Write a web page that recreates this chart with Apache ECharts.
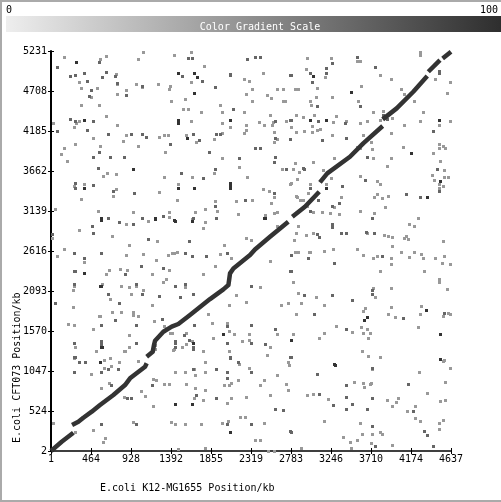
<!DOCTYPE html>
<html>
<head>
<meta charset="utf-8">
<style>html,body{margin:0;padding:0;background:#fff}#c{width:501px;height:502px}</style>
<script src="https://cdn.jsdelivr.net/npm/echarts@6/dist/echarts.min.js"></script>
</head>
<body>
<div id="c"></div>
<script>
var xTicks = [1,464,928,1392,1855,2319,2783,3246,3710,4174,4637];
var yTicks = [2,524,1047,1570,2093,2616,3139,3662,4185,4708,5231];
var xTitle = 'E.coli K12-MG1655 Position/kb';
var yTitle = 'E.coli CFT073 Position/kb';
var scaleTitle = 'Color Gradient Scale';

var alignedSegments = [
 [[1,2],[125,123],[260,241]],
 [[245,342],[318,385],[376,437],[473,516],[569,603],[724,734],[859,864],[917,952],[1091,1104],[1110,1148]],
 [[1110,1235],[1180,1300],[1195,1387],[1207,1444],[1303,1561],[1400,1627],[1477,1662],[1612,1779],[1844,1988],[1999,2115],[2057,2171],[2068,2259],[2076,2324],[2115,2389],[2308,2564],[2365,2637],[2539,2803],[2751,2999]],
 [[2798,3065],[2944,3195],[3110,3391]],
 [[3118,3513],[3203,3631],[3466,3849],[3620,4023],[3845,4250]],
 [[3845,4337],[4007,4481],[4200,4698],[4362,4903]],
 [[4374,4960],[4509,5112]],
 [[4540,5134],[4637,5221]]
];

var lightHits = [
[1072,5212],[1628,5212],[1431,5173],[156,5147],[643,5160],[573,5125],[1014,5125],[1779,5029],[759,4934],[2242,4860],[2296,4833],[330,4820],[770,4794],[991,4794],[1060,4755],[1246,4794],[1385,4768],[1373,4729],[1628,4820],[353,4742],[539,4742],[875,4716],[770,4663],[2265,4663],[469,4624],[1558,4598],[1396,4572],[353,4520],[562,4520],[1964,4520],[1535,4467],[1593,4467],[1744,4428],[1987,4428],[2242,4428],[643,4376],[330,4311],[1628,4311],[1987,4284],[29,4284],[291,4284],[770,4258],[2265,4258],[272,4232],[2080,4232],[2265,4193],[875,4128],[1257,4101],[1315,4128],[1361,4128],[1570,4128],[1987,4154],[2242,4154],[492,4088],[1894,4075],[840,4049],[1686,4036],[284,4010],[1014,3984],[573,3984],[156,3958],[1327,3905],[121,3879],[1987,3827],[191,3788],[2184,3709],[654,3631],[759,3618],[1894,3631],[608,3592],[1315,3579],[1640,3579],[2277,3579],[272,3470],[388,3487],[1477,3487],[759,3422],[1257,3383],[724,3330],[353,3291],[1466,3278],[1906,3265],[2149,3265],[1790,3160],[52,3160],[550,3134],[956,3121],[1373,3121],[1674,3121],[1929,3134],[2173,3095],[1373,3056],[1640,3030],[1130,3003],[875,2964],[1790,2990],[1767,2912],[330,2886],[712,2807],[17,2781],[2265,2781],[1234,2742],[909,2690],[2010,2690],[156,2642],
[2972,5134],[3250,5134],[3551,5095],[3586,5095],[4281,5212],[4281,5173],[2960,4990],[3180,4886],[2462,4938],[3818,4912],[3945,4860],[4455,4860],[3597,4768],[4630,4820],[3087,4742],[2334,4729],[2624,4729],[2693,4729],[2832,4729],[2867,4729],[4061,4729],[2508,4650],[2554,4611],[3261,4624],[3076,4624],[4594,4677],[4096,4663],[2693,4572],[2717,4572],[2334,4572],[3006,4572],[3562,4572],[4211,4572],[3018,4520],[3736,4428],[3852,4441],[4316,4428],[2543,4389],[2844,4389],[3053,4389],[3308,4376],[2925,4363],[2577,4298],[2415,4298],[2728,4311],[3273,4298],[3423,4311],[3586,4284],[3667,4311],[3817,4324],[3957,4350],[4281,4311],[4630,4311],[4501,4258],[2473,4258],[2566,4258],[2786,4232],[3029,4245],[4096,4258],[2589,4167],[2844,4167],[2937,4180],[3029,4167],[3087,4193],[3122,4206],[3945,4154],[3261,4128],[3620,4128],[2624,4075],[3713,4036],[2589,4036],[4501,4010],[4548,3984],[3551,3971],[3586,3958],[3725,3945],[4084,3971],[4501,3958],[4571,3958],[4432,3892],[3736,3827],[3945,3827],[3284,3827],[4513,3788],[2832,3762],[3041,3775],[3899,3722],[2682,3683],[2809,3683],[3157,3670],[4559,3670],[2879,3644],[3586,3592],[4420,3605],[4559,3579],[4605,3579],[2856,3552],[3250,3566],[3783,3526],[4443,3539],[2774,3487],[2786,3500],[3006,3487],[3192,3487],[3817,3487],[4548,3461],[4501,3487],[4501,3435],[2462,3422],[2531,3396],[2983,3369],[3783,3356],[2844,3330],[2856,3317],[2589,3317],[3365,3317],[3748,3317],[3841,3304],[3910,3330],[2334,3278],[2890,3278],[2925,3278],[2554,3239],[3284,3186],[3875,3186],[2971,3200],[3041,3121],[3145,3121],[3238,3108],[3342,3095],[3586,3134],[3748,3108],[2589,3108],[2624,3121],[2485,3082],[4258,3043],[2867,2938],[2624,2938],[4154,2964],[4211,2938],[2844,2847],[2960,2820],[3041,2847],[3667,2847],[3864,2820],[3910,2807],[3957,2794],[4119,2807],[4096,2781],[4142,2768],[2821,2755],[2322,2755],[4548,2742],[3957,2677],[3273,2638],[3551,2638],
[75,2546],[875,2559],[1072,2572],[1361,2559],[1408,2585],[1431,2585],[1466,2598],[1964,2572],[2091,2520],[388,2468],[1222,2494],[1906,2416],[678,2363],[805,2376],[886,2363],[1373,2363],[643,2311],[1176,2311],[1767,2311],[1338,2246],[1303,2206],[272,2154],[596,2180],[817,2154],[909,2141],[991,2154],[1558,2141],[260,2102],[1072,2102],[933,2050],[2149,2036],[689,1984],[2265,1945],[260,1880],[1176,1906],[2068,1906],[712,1814],[817,1814],[956,1814],[956,1775],[562,1762],[573,1762],[1014,1762],[1825,1788],[1199,1697],[202,1657],[272,1644],[1871,1670],[2045,1670],[492,1592],[1315,1631],[2068,1566],[1570,1540],[909,1514],[2126,1527],[1408,1540],[1385,1540],[1883,1474],[2300,1527],[1640,1435],[2219,1435],[2300,1448],[284,1357],[909,1357],[1211,1383],[1524,1357],[1570,1396],[1211,1331],[527,1304],[851,1304],[863,1304],[1431,1331],[1419,1317],[2068,1304],[1767,1304],[272,1213],[620,1187],[689,1213],[794,1161],[1014,1174],[1790,1161],[2184,1134],[701,1108],[620,1082],[1663,1069],[2300,1082],[1443,1030],[1558,1030],[1790,1030],[469,1004],[1674,991],[2173,925],[678,886],[1188,938],[1222,925],[1315,873],[1373,873],[1570,873],[2010,860],[2068,860],[2091,886],[585,821],[1674,821],[1048,782],[1790,795],[851,703],[1095,716],[1663,690],[1767,664],[2091,690],[2265,703],[2045,625],[1188,586],[2196,442],[2254,442],[29,363],[956,376],[1396,376],[1443,350],[1558,350],[1744,350],[1987,363],[2057,389],[492,272],[631,167],[608,115],[1477,23],[1790,37],[284,246],
[2832,2598],[2867,2598],[2995,2598],[3006,2598],[3168,2612],[3620,2559],[3783,2546],[3736,2520],[3945,2520],[4061,2598],[4154,2533],[4211,2598],[4293,2572],[4316,2520],[4455,2520],[4559,2546],[2543,2481],[4536,2455],[4630,2442],[3945,2442],[3817,2350],[4327,2350],[2809,2206],[4501,2246],[4501,2206],[2427,2141],[3736,2128],[3945,2128],[4594,2115],[2867,2063],[3760,2010],[3076,2010],[2751,1932],[2902,1932],[2670,1906],[3168,1906],[3945,1880],[4293,1893],[3644,1866],[3620,1827],[2844,1788],[3910,1788],[4281,1788],[4548,1762],[4605,1801],[4630,1788],[3991,1749],[3308,1631],[3597,1618],[4258,1618],[3667,1592],[2809,1527],[2624,1527],[3168,1540],[3493,1553],[3620,1540],[3702,1540],[3678,1474],[3111,1474],[2543,1357],[3609,1304],[2508,1252],[3678,1239],[3817,1226],[2751,1161],[2763,1121],[4548,1174],[4559,1187],[3725,1069],[4630,1082],[4269,1030],[2624,991],[2473,925],[4571,899],[3516,899],[3620,886],[3713,886],[3702,873],[2728,873],[2427,860],[3632,834],[2751,795],[4362,755],[2543,729],[2971,729],[3041,742],[3215,677],[3899,664],[4026,690],[4513,651],[4571,664],[3995,638],[3957,586],[4223,586],[4130,520],[3168,389],[4223,429],[4281,389],[4548,403],[4501,363],[2473,363],[3586,363],[4501,285],[3817,246],[3841,220],[3609,220],[3725,220],[3389,180],[2369,141],[2427,141],[3551,141],[3713,102],[3470,115],[3957,76],[3481,37],[2902,37],[2519,5],[2589,5]
];

var midHits = [
[1593,5134],[1640,5134],[2277,5130],[562,5082],[75,5016],[226,4899],[280,4912],[643,4951],[747,4899],[596,4886],[388,4938],[1524,4899],[2080,4929],[2080,4912],[423,4833],[770,4807],[1060,4772],[1755,4833],[1906,4755],[469,4716],[875,4650],[446,4637],[2115,4467],[226,4337],[280,4319],[492,4311],[423,4193],[75,4180],[666,4141],[933,4141],[1060,4141],[1106,4101],[1651,4141],[1918,4141],[1964,4141],[1721,4062],[1385,4010],[562,3905],[1837,3905],[492,3840],[689,3840],[851,3840],[2184,3827],[550,3696],[1906,3683],[1512,3631],[1767,3566],[280,3500],[492,3474],[284,3435],[724,3396],[967,3369],[2254,3278],[1906,3200],[1303,3069],[666,3043],[1060,3043],[1651,3043],[1918,3043],[794,2990],[956,2964],[481,2938],[492,2847],[17,2834],[1130,2768],[1605,2742],
[2369,5147],[2427,5147],[3551,5147],[3261,5069],[3760,5016],[3192,5003],[3006,4938],[3192,4938],[2774,4912],[2786,4912],[4501,4964],[4501,4938],[3029,4820],[3087,4507],[3586,4507],[3852,4389],[3099,4311],[2774,4324],[2786,4324],[2601,4311],[3412,4284],[3899,4337],[4432,4180],[2601,4088],[2774,4075],[3145,4062],[3423,4088],[2369,3958],[2427,3958],[2601,3840],[3667,3840],[2589,3775],[2728,3683],[2925,3696],[2937,3683],[4478,3683],[3644,3539],[3377,3461],[3006,3435],[4501,3396],[2589,3369],[4119,3356],[4281,3317],[3099,3278],[3342,3239],[3261,3200],[3006,3134],[3725,3043],[3261,2964],[3261,2925],[3087,2834],[3111,2794],[3365,2847],[3423,2847],[3655,2860],[3748,2847],
[272,2585],[585,2585],[1558,2585],[1640,2546],[1802,2546],[2045,2585],[388,2520],[1048,2416],[272,2350],[284,2350],[1303,2389],[863,2311],[272,2180],[991,2180],[1443,2154],[1558,2180],[666,2050],[1060,2050],[1651,2050],[1257,2023],[1500,2010],[52,1932],[794,1932],[747,1710],[1292,1723],[585,1644],[991,1644],[1663,1644],[2045,1631],[1547,1514],[272,1409],[585,1435],[585,1396],[991,1409],[1443,1435],[1443,1409],[1605,1448],[2045,1409],[1443,1357],[1651,1357],[1651,1331],[272,1226],[284,1226],[2080,1226],[2080,1213],[330,1161],[399,1161],[2173,1161],[666,1069],[782,1069],[1651,1069],[1918,1069],[272,1030],[585,1030],[2045,1030],[2045,952],[701,860],[1176,860],[886,690],[933,690],[1686,729],[1918,690],[585,350],[991,350],[2045,350],
[2786,2559],[3841,2546],[2983,2520],[3284,2455],[2774,2350],[2786,2350],[2322,2154],[3725,2102],[2937,2036],[3261,2036],[3725,2050],[3493,1971],[3053,1788],[4559,1801],[4084,1736],[2322,1644],[2601,1592],[3423,1592],[2485,1396],[2322,1409],[2774,1226],[2786,1226],[3725,1082],[2322,1030],[3087,1004],[4142,873],[3423,860],[3111,742],[3423,703],[3725,690],[3273,599],[3493,612],[2601,546],[2693,533],[3423,546],[3667,546],[4200,520],[2322,350],[3725,324],[2774,259],[2786,246],[4327,259],[4362,207],[3760,63],[4432,63]
];

var darkHits = [
[295,5082],[1477,4938],[1663,4938],[1697,4886],[1663,4677],[388,4324],[1477,4324],[1477,4289],[2080,4324],[1582,4088],[956,3683],[2080,3500],[2080,3465],[388,3435],[1477,3435],[1663,3435],[2080,3435],[585,3043],[585,3025],[1211,3051],[1211,3034],[1431,3017],[1443,3003],[1640,3003],
[3041,4899],[3481,4690],[3006,4324],[3192,4324],[4501,4324],[4177,3892],[4513,3526],[3192,3435],[4362,3317],[2473,3043],[2485,3043],
[388,2324],[573,2154],[585,2154],[1999,1527],[1651,1409],[585,1357],[596,1357],[573,1161],[1443,612],[1640,612],[2080,250],
[4351,1840],[3667,1749],[3632,1710],[4513,1527],[2786,1448],[4513,1200],[3284,1134],[3296,1121]
];

var FONT = '"DejaVu Sans Mono", monospace';
function hits(data, color){
  return {type:'custom', data:data, coordinateSystem:'cartesian2d', silent:true, animation:false, clip:false,
    encode:{x:0,y:1},
    renderItem:function(params, api){
      var p = api.coord([api.value(0), api.value(1)]);
      return {type:'rect', shape:{x:Math.round(p[0])-1, y:Math.round(p[1])-1, width:3, height:3},
        style:{fill:color}};
    }};
}
var series = [hits(lightHits,'#999999'), hits(midHits,'#666666'), hits(darkHits,'#333333')];
alignedSegments.forEach(function(seg){
  series.push({type:'line', data:seg, showSymbol:false, silent:true, animation:false, clip:true,
    lineStyle:{color:'#333333', width:4.5, cap:'butt', join:'round'}});
});
function plain(v){ return String(v); }
function xAxisDef(show){
  return {type:'value', min:xTicks[0], max:xTicks[xTicks.length-1], position:'bottom', splitLine:{show:false},
    axisLine:{show:show, onZero:false, lineStyle:{color:'#000', width:1.5}},
    axisTick:{show:true, inside:!show, length:3, customValues:xTicks, lineStyle:{color:'#000', width:1}},
    axisLabel:{show:show, customValues:xTicks, formatter:plain, margin:3, color:'#000', fontFamily:FONT, fontSize:10,
      hideOverlap:false, showMinLabel:true, showMaxLabel:true}};
}
function yAxisDef(show){
  return {type:'value', min:yTicks[0], max:yTicks[yTicks.length-1], position:'left', splitLine:{show:false},
    axisLine:{show:show, onZero:false, lineStyle:{color:'#000', width:2}},
    axisTick:{show:true, inside:!show, length:3, customValues:yTicks, lineStyle:{color:'#000', width:1}},
    axisLabel:{show:show, customValues:yTicks, formatter:plain, margin:4, color:'#000', fontFamily:FONT, fontSize:10,
      hideOverlap:false, showMinLabel:true, showMaxLabel:true}};
}
var chart = echarts.init(document.getElementById('c'), null, {renderer:'canvas', width:501, height:502});
chart.setOption({
  animation:false,
  backgroundColor:'#fff',
  grid:{left:51, top:51, width:400, height:400},
  xAxis:[xAxisDef(true), xAxisDef(false)],
  yAxis:[yAxisDef(true), yAxisDef(false)],
  series:series,
  graphic:[
    {type:'rect', shape:{x:0,y:0,width:501,height:2}, style:{fill:'#aaaaaa'}, silent:true},
    {type:'rect', shape:{x:0,y:0,width:2,height:502}, style:{fill:'#aaaaaa'}, silent:true},
    {type:'rect', shape:{x:0,y:500,width:501,height:2}, style:{fill:'#aaaaaa'}, silent:true},
    {type:'rect', shape:{x:6,y:16,width:495,height:16}, silent:true,
      style:{fill:new echarts.graphic.LinearGradient(0,0,1,0,[{offset:0,color:'#eeeeee'},{offset:1,color:'#2e2e2e'}])}},
    {type:'text', x:260, y:27, silent:true, style:{text:scaleTitle, fill:'#fff', font:'10px '+FONT, align:'center', verticalAlign:'middle'}},
    {type:'text', x:6, y:10, silent:true, style:{text:'0', fill:'#000', font:'10px '+FONT, align:'left', verticalAlign:'middle'}},
    {type:'text', x:498, y:10, silent:true, style:{text:'100', fill:'#000', font:'10px '+FONT, align:'right', verticalAlign:'middle'}},
    {type:'text', x:100, y:488, silent:true, style:{text:xTitle, fill:'#000', font:'10px '+FONT, align:'left', verticalAlign:'middle'}},
    {type:'text', x:17, y:443, rotation:Math.PI/2, silent:true, style:{text:yTitle, fill:'#000', font:'10px '+FONT, align:'left', verticalAlign:'middle'}}
  ]
});
</script>
</body>
</html>
